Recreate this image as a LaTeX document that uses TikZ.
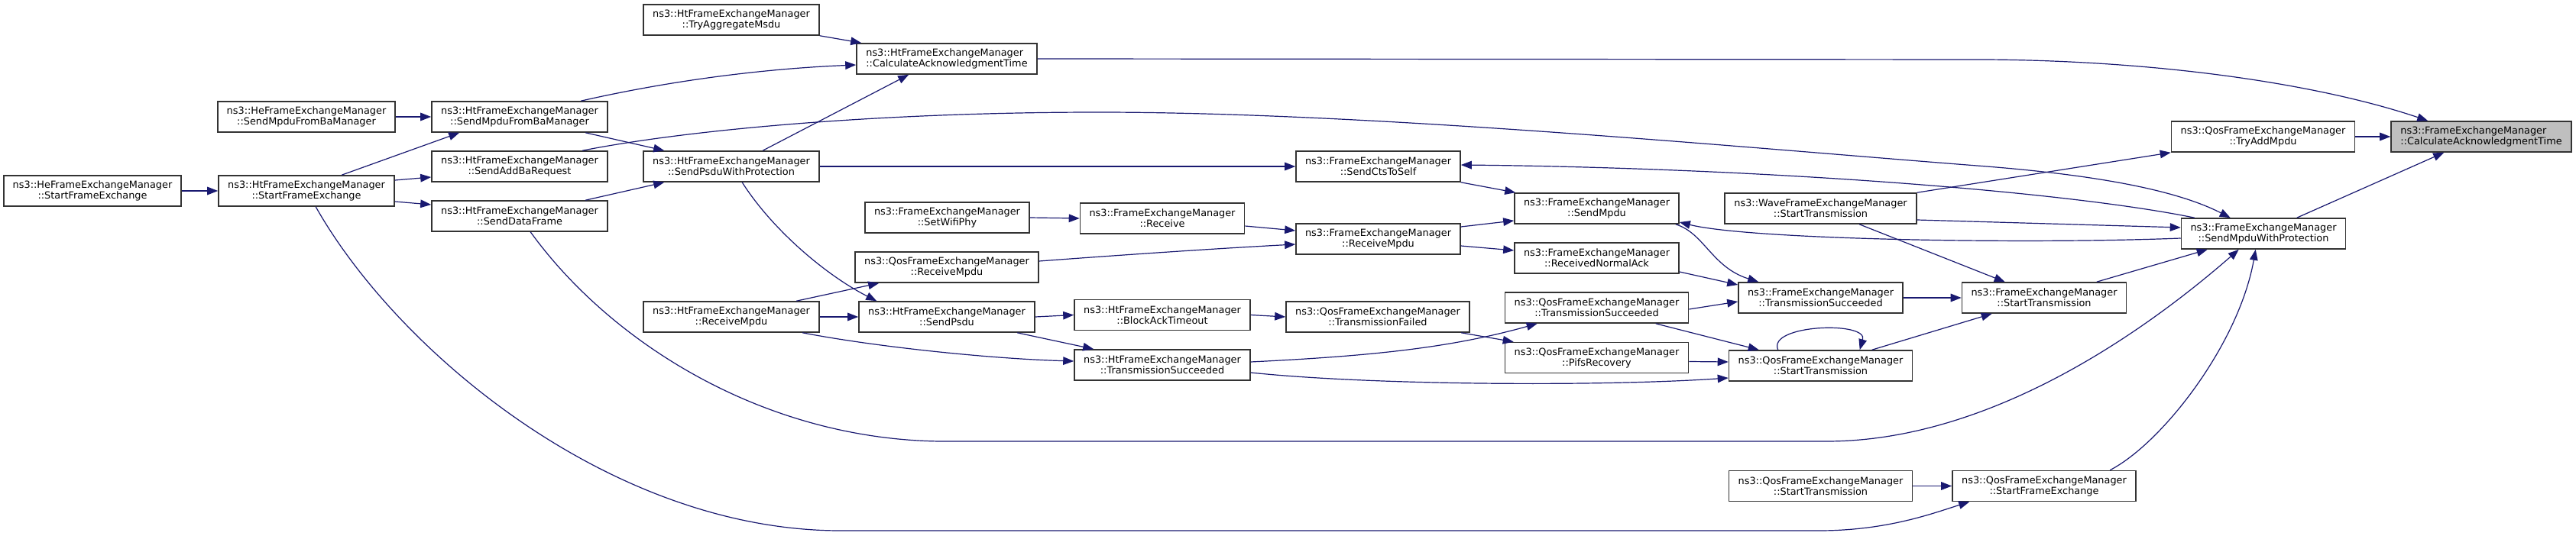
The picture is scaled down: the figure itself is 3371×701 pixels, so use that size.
\documentclass[tikz,border=0pt]{standalone}
\usepackage{fontspec}
\setmainfont{DejaVu Sans}
\usetikzlibrary{arrows.meta,calc}
\definecolor{edgec}{HTML}{191970}
\definecolor{boxc}{HTML}{333333}
\definecolor{grayfill}{HTML}{BFBFBF}
\begin{document}
\begin{tikzpicture}[x=0.5pt,y=-0.5pt,
  fn/.style={draw=boxc, line width=0.8pt, fill=white, inner sep=0pt,
    minimum height=20pt, align=center, font=\fontsize{6.43}{7}\selectfont, text=black},
  wHt/.style={minimum width=115pt},
  wHe/.style={minimum width=116pt},
  wFe/.style={minimum width=107.5pt},
  wQos/.style={minimum width=120pt},
  wCalc/.style={minimum width=118pt, align=left},
  wWave/.style={minimum width=125.5pt},
  callee/.style={fill=grayfill},
  call/.style={draw=edgec, line width=0.6pt, -{Triangle[length=7pt,width=5.3pt]}}
]
\useasboundingbox (0,0) rectangle (3371,701);

% ---------- nodes ----------
\node[fn,wCalc,callee] (gray) at (3247,179) {ns3::FrameExchangeManager\\::CalculateAcknowledgmentTime};
\node[fn,wQos] (tryadd) at (2961.5,179) {ns3::QosFrameExchangeManager\\::TryAddMpdu};
\node[fn,wFe] (smwp) at (2962,306) {ns3::FrameExchangeManager\\::SendMpduWithProtection};
\node[fn,wWave] (wave) at (2382.5,273) {ns3::WaveFrameExchangeManager\\::StartTransmission};
\node[fn,wFe] (femst) at (2675,390) {ns3::FrameExchangeManager\\::StartTransmission};
\node[fn,wQos] (qossfe) at (2675,636.5) {ns3::QosFrameExchangeManager\\::StartFrameExchange};
\node[fn,wQos] (qosst2) at (2382.5,636.5) {ns3::QosFrameExchangeManager\\::StartTransmission};
\node[fn,wQos] (qosst) at (2382.5,479) {ns3::QosFrameExchangeManager\\::StartTransmission};
\node[fn,wFe] (femts) at (2382.5,390) {ns3::FrameExchangeManager\\::TransmissionSucceeded};
\node[fn,wQos] (qosts) at (2089.5,403) {ns3::QosFrameExchangeManager\\::TransmissionSucceeded};
\node[fn,wQos] (pifs) at (2089.5,468.5) {ns3::QosFrameExchangeManager\\::PifsRecovery};
\node[fn,wQos] (qostf) at (1803,415) {ns3::QosFrameExchangeManager\\::TransmissionFailed};
\node[fn,wFe] (sendmpdu) at (2089.5,273) {ns3::FrameExchangeManager\\::SendMpdu};
\node[fn,wFe] (rna) at (2089.5,338) {ns3::FrameExchangeManager\\::ReceivedNormalAck};
\node[fn,wFe] (cts) at (1803.5,218) {ns3::FrameExchangeManager\\::SendCtsToSelf};
\node[fn,wFe] (femrm) at (1803.5,313) {ns3::FrameExchangeManager\\::ReceiveMpdu};
\node[fn,wCalc] (htcalc) at (1239,77) {ns3::HtFrameExchangeManager\\::CalculateAcknowledgmentTime};
\node[fn,wFe] (setphy) at (1239.5,285) {ns3::FrameExchangeManager\\::SetWifiPhy};
\node[fn,wFe] (recv) at (1521,286) {ns3::FrameExchangeManager\\::Receive};
\node[fn,wQos] (qosrm) at (1239,350) {ns3::QosFrameExchangeManager\\::ReceiveMpdu};
\node[fn,wHt] (sendpsdu) at (1239,415) {ns3::HtFrameExchangeManager\\::SendPsdu};
\node[fn,wHt] (bat) at (1521,412.5) {ns3::HtFrameExchangeManager\\::BlockAckTimeout};
\node[fn,wHt] (htts) at (1521,478) {ns3::HtFrameExchangeManager\\::TransmissionSucceeded};
\node[fn,wHt] (tryagg) at (957,26) {ns3::HtFrameExchangeManager\\::TryAggregateMsdu};
\node[fn,wHt] (spwp) at (957,218) {ns3::HtFrameExchangeManager\\::SendPsduWithProtection};
\node[fn,wHt] (htrm) at (957,415) {ns3::HtFrameExchangeManager\\::ReceiveMpdu};
\node[fn,wHt] (htsmfba) at (680,153) {ns3::HtFrameExchangeManager\\::SendMpduFromBaManager};
\node[fn,wHt] (addba) at (680,218) {ns3::HtFrameExchangeManager\\::SendAddBaRequest};
\node[fn,wHt] (sdf) at (680,283) {ns3::HtFrameExchangeManager\\::SendDataFrame};
\node[fn,wHe] (hesmfba) at (401,153) {ns3::HeFrameExchangeManager\\::SendMpduFromBaManager};
\node[fn,wHe] (hesfe) at (121,250) {ns3::HeFrameExchangeManager\\::StartFrameExchange};
\node[fn,wHt] (htsfe) at (401,250) {ns3::HtFrameExchangeManager\\::StartFrameExchange};

% ---------- edges ----------
\draw[call] (hesfe.east) -- (htsfe.west);
\draw[call] (hesmfba.east) -- (htsmfba.west);
\draw[call] ($(htsfe.north west)+(162,0)$) -- ($(htsmfba.south west)+(37,0)$);
\draw[call] ($(htsfe.east)+(0,-14)$) -- ($(addba.west)+(0,14)$);
\draw[call] ($(htsfe.east)+(0,14)$) -- ($(sdf.west)+(0,-15)$);
\draw[call] ($(htsfe.south west)+(128,0)$) .. controls (520,460) and (800,695) .. (1100,695)
   -- (2380,695) .. controls (2470,695) and (2530,672) .. ($(qossfe.south west)+(23,0)$);
\draw[call] ($(sdf.south west)+(130,0)$) .. controls (800,450) and (1000,575) .. (1230,578)
   -- (2390,578) .. controls (2600,578) and (2800,440) .. ($(smwp.south west)+(76,0)$);
\draw[call] ($(htsmfba.north west)+(196,0)$) .. controls (880,105) and (1000,90) .. ($(htcalc.west)+(0,8)$);
\draw[call] (tryagg.south east) -- ($(htcalc.north west)+(7,0)$);
\draw[call] ($(spwp.north west)+(157,0)$) -- ($(htcalc.south west)+(69,0)$);
\draw[call] ($(htsmfba.south west)+(202,0)$) -- ($(spwp.north west)+(28,0)$);
\draw[call] ($(sdf.north west)+(202,0)$) -- ($(spwp.south west)+(28,0)$);
\draw[call] ($(addba.north west)+(198,0)$) .. controls (900,170) and (1150,147) .. (1437,147)
   .. controls (1800,147) and (2300,195) .. (2600,218)
   .. controls (2750,230) and (2850,250) .. ($(smwp.north west)+(65,0)$);
\draw[call] (spwp.east) -- (cts.west);
\draw[call] ($(spwp.south west)+(130,0)$) .. controls (1010,300) and (1080,360) .. ($(sendpsdu.north west)+(24,0)$);
\draw[call] ($(htrm.north west)+(201,0)$) -- ($(qosrm.south west)+(32,0)$);
\draw[call] (htrm.east) -- (sendpsdu.west);
\draw[call] ($(htrm.south west)+(209,0)$) .. controls (1150,455) and (1300,470) .. ($(htts.west)+(0,-5)$);
\draw[call] (setphy.east) -- (recv.west);
\draw[call] ($(recv.east)+(0,10)$) -- ($(femrm.west)+(0,-11)$);
\draw[call] ($(qosrm.east)+(0,-8)$) .. controls (1480,333) and (1600,325) .. ($(femrm.west)+(0,7)$);
\draw[call] (sendpsdu.east) -- (bat.west);
\draw[call] ($(sendpsdu.south west)+(208,0)$) -- ($(htts.north west)+(26,0)$);
\draw[call] (bat.east) -- (qostf.west);
\draw[call] ($(htts.east)+(0,-4)$) .. controls (1800,466) and (1900,455) .. ($(qosts.south west)+(43,0)$);
\draw[call] ($(htts.east)+(0,10)$) .. controls (1800,505) and (2100,506) .. ($(qosst.west)+(0,16)$);
\draw[call] ($(qostf.south west)+(230,0)$) -- ($(pifs.north west)+(12,0)$);
\draw[call] ($(qosts.east)+(0,2)$) -- ($(femts.west)+(0,5)$);
\draw[call] ($(qosts.south west)+(198,0)$) -- ($(qosst.north west)+(40,0)$);
\draw[call] ($(pifs.east)+(0,5)$) -- ($(qosst.west)+(0,-5)$);
\draw[call] ($(qosst.north west)+(65,0)$) .. controls (2312,425) and (2445,420) .. ($(qosst.north west)+(172,0)$);
\draw[call] (femts.east) -- (femst.west);
\draw[call] ($(qosst.north west)+(188,0)$) -- ($(femst.south west)+(40,0)$);
\draw[call] ($(rna.east)+(0,18)$) -- ($(femts.west)+(0,-17)$);
\draw[call] ($(sendmpdu.south east)+(-5,0)$) .. controls (2230,305) and (2240,350) .. ($(femts.north west)+(27,0)$);
\draw[call] ($(wave.south west)+(177,0)$) -- ($(femst.north west)+(57,0)$);
\draw[call] (wave.north east) -- (tryadd.south west);
\draw[call] ($(wave.east)+(0,15)$) -- ($(smwp.west)+(0,-8)$);
\draw[call] ($(femst.north west)+(177,0)$) -- ($(smwp.south west)+(35,0)$);
\draw[call] ($(qossfe.north west)+(207,0)$) .. controls (2830,580) and (2930,450) .. ($(smwp.south west)+(98,0)$);
\draw[call] (qosst2.east) -- (qossfe.west);
\draw[call] ($(smwp.north west)+(18,0)$) .. controls (2700,250) and (2300,220) .. ($(cts.east)+(0,-2)$);
\draw[call] ($(smwp.west)+(0,6)$) .. controls (2650,320) and (2290,314) .. ($(sendmpdu.east)+(0,18)$);
\draw[call] (cts.south east) -- ($(sendmpdu.north west)+(2,0)$);
\draw[call] ($(femrm.east)+(0,-16)$) -- ($(sendmpdu.west)+(0,16)$);
\draw[call] ($(femrm.east)+(0,9)$) -- ($(rna.west)+(0,-10)$);
\draw[call] (htcalc.east) -- (2600,78) .. controls (2850,80) and (3050,115) .. ($(gray.north west)+(49,0)$);
\draw[call] (tryadd.east) -- (gray.west);
\draw[call] ($(smwp.north west)+(152,0)$) -- ($(gray.south west)+(70,0)$);
\end{tikzpicture}
\end{document}
